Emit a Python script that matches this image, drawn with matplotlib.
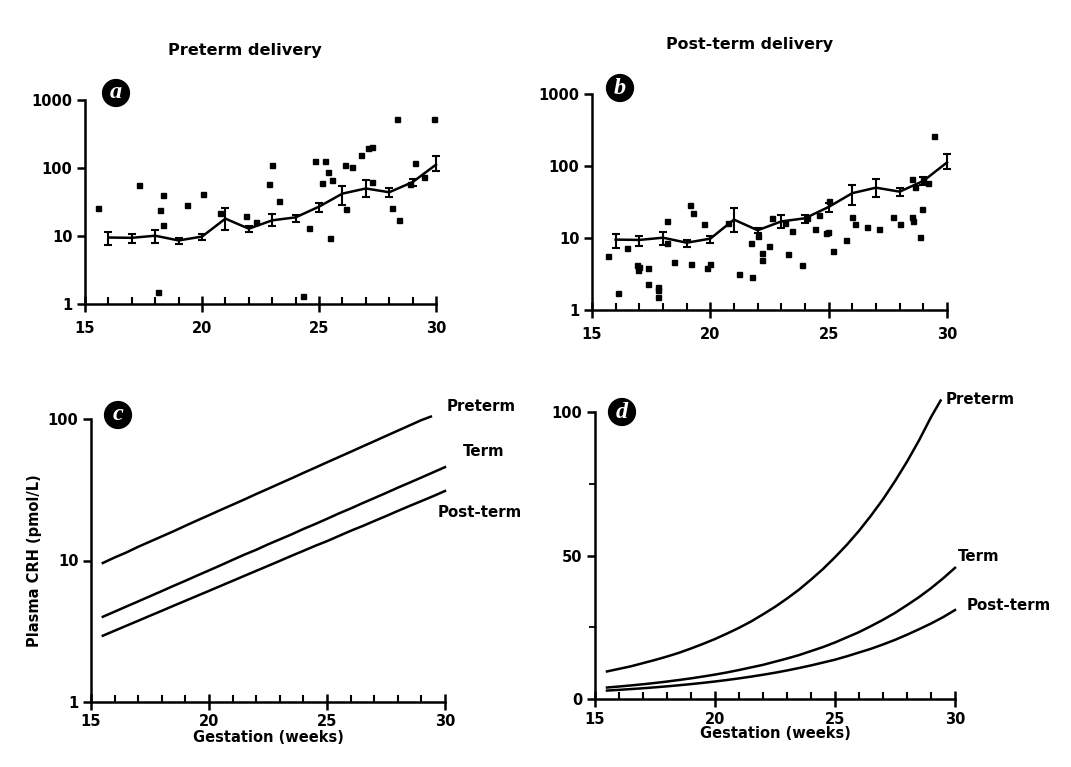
import matplotlib
matplotlib.use("Agg")
import matplotlib.pyplot as plt
from matplotlib.ticker import FixedLocator, NullFormatter

# ---------------- data ----------------
weeks = [16, 17, 18, 19, 20, 21, 22, 23, 24, 25, 26, 27, 28, 29, 30]
term_mean = [9.5, 9.4, 10.1, 8.6, 9.8, 18, 12.8, 17, 18.8, 27, 42, 50, 44, 62, 112]
term_lo = [7.3, 7.8, 8.0, 7.6, 8.6, 12.3, 11.6, 13.8, 16.2, 22.7, 28.6, 37, 38, 54, 91]
term_hi = [11.3, 10.6, 12.2, 9.3, 10.8, 26, 13.9, 21, 20.7, 30.5, 55, 66, 50, 70, 148]

pre_x = [15.57, 17.32, 18.1, 18.2, 18.35, 18.35, 19.35, 20.03, 20.77, 21.9, 22.3,
         22.86, 23.0, 23.3, 24.33, 24.59, 24.83, 25.14, 25.26, 25.4, 25.47, 25.54,
         26.1, 26.14, 26.4, 26.8, 27.1, 27.25, 27.25, 28.1, 28.35, 28.4, 28.9,
         29.1, 29.5, 29.93]
pre_y = [26, 56, 1.5, 24, 40, 14.5, 29, 42, 22, 19.6, 16,
         59, 110, 33, 1.3, 13, 125, 60, 125, 87, 9.4, 66,
         109, 25, 102, 155, 200, 204, 63, 25.6, 520, 17, 59,
         120, 73, 520]

post_x = [15.66, 16.08, 16.48, 16.9, 16.93, 16.97, 17.35, 17.35, 17.77, 17.77, 17.77,
          18.17, 18.17, 18.48, 19.15, 19.27, 19.2, 19.72, 19.86, 20.0, 20.75, 21.2,
          21.73, 21.76, 22.0, 22.18, 22.18, 22.46, 22.6, 23.17, 23.3, 23.45, 23.87,
          24.08, 24.44, 24.58, 24.9, 24.97, 25.0, 25.17, 25.75, 26.0, 26.13, 26.6,
          27.14, 27.7, 28.0, 28.52, 28.52, 28.55, 28.63, 28.85, 28.94, 29.0, 29.2, 29.44]
post_y = [5.6, 1.7, 7.2, 4.2, 3.6, 4.0, 3.8, 2.3, 2.1, 1.9, 1.5,
          17.3, 8.5, 4.7, 28.6, 22, 4.3, 15.7, 3.8, 4.3, 16, 3.2,
          8.5, 2.85, 10.7, 6.1, 5.0, 7.8, 19.2, 16, 6.0, 12.6, 4.2,
          19.2, 13.2, 21, 11.7, 12.3, 33, 6.6, 9.3, 19.5, 15.7, 14.1,
          13.4, 19.5, 15.7, 66, 19.5, 17, 51, 10.2, 25.5, 63, 58, 263]

preterm_x = [15.5, 16, 16.5, 17, 17.5, 18, 18.5, 19, 19.5, 20, 20.5, 21, 21.5, 22,
             22.5, 23, 23.5, 24, 24.5, 25, 25.5, 26, 26.5, 27, 27.5, 28, 28.5, 29, 29.4]
preterm_curve = [9.6, 10.5, 11.4, 12.5, 13.6, 14.8, 16.1, 17.6, 19.2, 20.9, 22.8,
                 24.8, 27.0, 29.5, 32.1, 35.0, 38.1, 41.6, 45.3, 49.4, 53.8, 58.6,
                 63.9, 69.6, 75.9, 82.7, 90.1, 98.2, 104]
term_x = [15.5, 16, 16.5, 17, 17.5, 18, 18.5, 19, 19.5, 20, 20.5, 21, 21.5, 22,
          22.5, 23, 23.5, 24, 24.5, 25, 25.5, 26, 26.5, 27, 27.5, 28, 28.5, 29, 29.5, 30]
term_curve = [4.0, 4.35, 4.73, 5.14, 5.59, 6.08, 6.62, 7.19, 7.83, 8.51, 9.26,
              10.1, 11.0, 11.9, 13.0, 14.1, 15.3, 16.7, 18.1, 19.7, 21.5, 23.3,
              25.4, 27.6, 30.0, 32.7, 35.5, 38.6, 42.0, 45.7]
postterm_curve = [2.94, 3.19, 3.46, 3.75, 4.07, 4.41, 4.79, 5.19, 5.63, 6.10, 6.62,
                  7.18, 7.79, 8.45, 9.16, 9.94, 10.8, 11.7, 12.7, 13.7, 14.9, 16.2,
                  17.5, 19.0, 20.6, 22.4, 24.3, 26.3, 28.5, 31.0]

xticks = [15, 20, 25, 30]

# ---------------- figure ----------------
W, H = 1071, 767
fig = plt.figure(figsize=(W / 100, H / 100), dpi=100)
FONT = "DejaVu Sans"
plt.rcParams["font.family"] = FONT
plt.rcParams["font.weight"] = "bold"


def px_axes(l, r, b, t):
    return fig.add_axes([l / W, 1 - b / H, (r - l) / W, (b - t) / H])


def style(ax):
    ax.spines["top"].set_visible(False)
    ax.spines["right"].set_visible(False)
    for s in ("left", "bottom"):
        ax.spines[s].set_linewidth(1.8)
    ax.set_xlim(15, 30)
    ax.xaxis.set_major_locator(FixedLocator(xticks))
    ax.xaxis.set_minor_locator(FixedLocator(list(range(16, 30))))
    ax.xaxis.set_minor_formatter(NullFormatter())
    ax.tick_params(axis="x", which="major", direction="inout", length=12, width=1.8,
                   labelsize=10.5, pad=3)
    ax.tick_params(axis="x", which="minor", direction="in", length=5, width=1.5)
    ax.tick_params(axis="y", which="major", direction="out", length=6, width=1.8,
                   labelsize=10.5, pad=3)
    ax.tick_params(axis="y", which="minor", direction="out", length=4, width=1.3)
    for lab in ax.get_xticklabels() + ax.get_yticklabels():
        lab.set_fontweight("bold")


def badge(x, y, letter):
    fig.text(x / W, 1 - y / H, letter, ha="center", va="center", color="white",
             fontsize=17.5, style="italic", family="Liberation Serif",
             bbox=dict(boxstyle="circle,pad=0.12", fc="black", ec="black"))


def scatter_panel(ax, sx, sy):
    ax.set_yscale("log")
    ax.set_ylim(1, 1000)
    ax.yaxis.set_major_locator(FixedLocator([1, 10, 100, 1000]))
    ax.yaxis.set_minor_locator(FixedLocator([]))
    ax.set_yticklabels(["1", "10", "100", "1000"])
    ax.plot(sx, sy, "s", color="black", markersize=3.6, clip_on=False)
    yerr = [[m - l for m, l in zip(term_mean, term_lo)],
            [h - m for m, h in zip(term_mean, term_hi)]]
    ax.errorbar(weeks, term_mean, yerr=yerr, color="black", lw=1.8, capsize=3,
                capthick=1.5, elinewidth=1.5, clip_on=False)
    style(ax)
    ax.tick_params(axis="x", which="major", pad=6)


# Panel a
axa = px_axes(85, 436, 304, 100)
scatter_panel(axa, pre_x, pre_y)
fig.text(245 / W, 1 - 51 / H, "Preterm delivery", ha="center", va="center",
         fontsize=11.6, fontweight="bold")
badge(116, 93, "a")

# Panel b
axb = px_axes(592, 947, 310, 94)
scatter_panel(axb, post_x, post_y)
fig.text(750 / W, 1 - 45 / H, "Post-term delivery", ha="center", va="center",
         fontsize=11.4, fontweight="bold")
badge(620, 88, "b")

# Panel c
axc = px_axes(91, 445, 702, 419)
axc.set_yscale("log")
axc.set_ylim(1, 100)
axc.yaxis.set_major_locator(FixedLocator([1, 10, 100]))
axc.yaxis.set_minor_locator(FixedLocator([]))
axc.set_yticklabels(["1", "10", "100"])
axc.plot(preterm_x, preterm_curve, color="black", lw=1.8, clip_on=False)
axc.plot(term_x, term_curve, color="black", lw=1.8, clip_on=False)
axc.plot(term_x, postterm_curve, color="black", lw=1.8, clip_on=False)
style(axc)
axc.set_ylabel("Plasma CRH (pmol/L)", fontsize=10.5, fontweight="bold", labelpad=4)
axc.set_xlabel("Gestation (weeks)", fontsize=10.5, fontweight="bold", labelpad=0)
axc.text(30.05, 123, "Preterm", ha="left", va="center", fontsize=10.8,
         fontweight="bold", clip_on=False)
axc.text(30.75, 58.5, "Term", ha="left", va="center", fontsize=10.8,
         fontweight="bold", clip_on=False)
axc.text(29.7, 21.7, "Post-term", ha="left", va="center", fontsize=10.8,
         fontweight="bold", clip_on=False)
badge(118, 415, "c")

# Panel d
axd = px_axes(595, 955, 699, 412)
axd.set_ylim(0, 100)
axd.yaxis.set_major_locator(FixedLocator([0, 50, 100]))
axd.yaxis.set_minor_locator(FixedLocator([25, 75]))
axd.yaxis.set_minor_formatter(NullFormatter())
axd.plot(preterm_x, preterm_curve, color="black", lw=1.8, clip_on=False)
axd.plot(term_x, term_curve, color="black", lw=1.8, clip_on=False)
axd.plot(term_x, postterm_curve, color="black", lw=1.8, clip_on=False)
style(axd)
axd.set_xlabel("Gestation (weeks)", fontsize=10.5, fontweight="bold", labelpad=0)
axd.text(29.6, 104.5, "Preterm", ha="left", va="center", fontsize=10.8,
         fontweight="bold", clip_on=False)
axd.text(30.1, 49.5, "Term", ha="left", va="center", fontsize=10.8,
         fontweight="bold", clip_on=False)
axd.text(30.5, 32.5, "Post-term", ha="left", va="center", fontsize=10.8,
         fontweight="bold", clip_on=False)
badge(622, 412, "d")

fig.savefig("out.png", dpi=100, facecolor="white")
